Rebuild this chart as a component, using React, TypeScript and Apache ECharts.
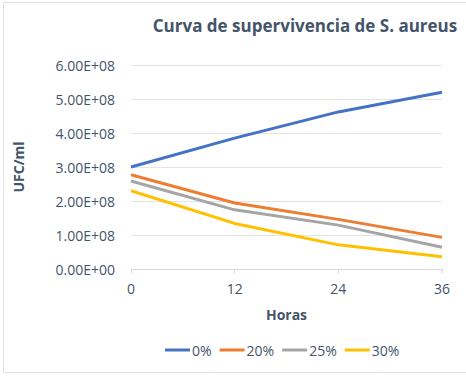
import React, { useEffect, useRef } from "react";
import * as echarts from "echarts";

const hours = [0, 12, 24, 36];
const seriesNames = ["0%", "20%", "25%", "30%"];
const s0 = [3.0e8, 3.85e8, 4.62e8, 5.2e8];
const s20 = [2.77e8, 1.94e8, 1.46e8, 0.93e8];
const s25 = [2.59e8, 1.74e8, 1.29e8, 0.64e8];
const s30 = [2.3e8, 1.34e8, 0.71e8, 0.36e8];
const colors = ["#4472C4", "#ED7D31", "#A5A5A5", "#FFC000"];

const FONT = "'Open Sans', 'Noto Sans', sans-serif";
const TXT = "#44546A";

function fmtExp(v: number): string {
  if (v === 0) return "0.00E+00";
  const e = Math.floor(Math.log10(v));
  const m = v / Math.pow(10, e);
  return m.toFixed(2) + "E+" + String(e).padStart(2, "0");
}

export default function App() {
  const ref = useRef<HTMLDivElement>(null);
  useEffect(() => {
    if (!ref.current) return;
    const chart = echarts.init(ref.current, null, { renderer: "svg" });
    const all = [s0, s20, s25, s30];
    chart.setOption({
      animation: false,
      backgroundColor: "#ffffff",
      graphic: [
        {
          type: "rect",
          shape: { x: 3.5, y: 2.5, width: 470, height: 370 },
          style: { fill: "none", stroke: "#DDE2EA", lineWidth: 1 },
          silent: true,
        },
      ],
      title: {
        text: "Curva de supervivencia de S. aureus",
        left: 300,
        top: 12,
        textAlign: "center",
        textStyle: { fontFamily: FONT, fontSize: 17, fontWeight: "bold", color: TXT },
      },
      legend: {
        bottom: 14,
        left: 160,
        width: 300,
        icon: "rect",
        itemWidth: 25,
        itemHeight: 3,
        itemGap: 8,
        data: seriesNames,
        textStyle: { fontFamily: FONT, fontSize: 14, color: TXT, padding: [0, 0, 0, -3] },
      },
      grid: { left: 131, right: 24, top: 65, bottom: 107 },
      xAxis: {
        type: "value",
        min: 0,
        max: 36,
        interval: 12,
        name: "Horas",
        nameLocation: "middle",
        nameGap: 38,
        nameTextStyle: { fontFamily: FONT, fontSize: 14, fontWeight: "bold", color: TXT },
        axisLine: { lineStyle: { color: "#D9D9D9" } },
        axisTick: { show: true, length: 4, lineStyle: { color: "#D9D9D9" } },
        axisLabel: { fontFamily: FONT, fontSize: 14, color: TXT, margin: 12 },
        splitLine: { show: false },
      },
      yAxis: {
        type: "value",
        min: 0,
        max: 6e8,
        interval: 1e8,
        name: "UFC/ml",
        nameLocation: "middle",
        nameGap: 106,
        nameTextStyle: { fontFamily: FONT, fontSize: 14, fontWeight: "bold", color: TXT },
        axisLine: { show: false },
        axisTick: { show: false },
        axisLabel: {
          fontFamily: FONT,
          fontSize: 14,
          color: TXT,
          margin: 16,
          formatter: (v: number) => fmtExp(v),
        },
        splitLine: { lineStyle: { color: "#E3E3E3" } },
      },
      series: seriesNames.map((n, i) => ({
        name: n,
        type: "line",
        data: hours.map((h, j) => [h, all[i][j]]),
        showSymbol: false,
        symbol: "none",
        lineStyle: { width: 3, color: colors[i] },
        itemStyle: { color: colors[i] },
      })),
    });
    return () => chart.dispose();
  }, []);
  return (
    <div
      ref={ref}
      style={{ position: "fixed", left: 0, top: 0, width: 466, height: 376 }}
    />
  );
}
